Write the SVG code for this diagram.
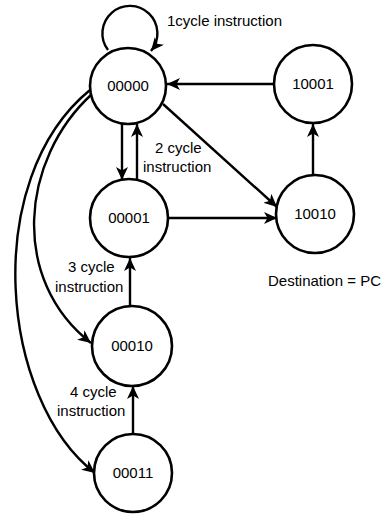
<svg xmlns="http://www.w3.org/2000/svg" width="388" height="514" viewBox="0 0 388 514">
<style>
.node circle{fill:#fff;stroke:#000;stroke-width:2.6}
.node text,.lbl{font-family:"Liberation Sans",Arial,sans-serif;font-size:15px;fill:#000}
.node text{text-anchor:middle}
.edge{fill:none;stroke:#000;stroke-width:2.4;marker-end:url(#ah)}
</style>
<defs>
<marker id="ah" markerUnits="userSpaceOnUse" markerWidth="14" markerHeight="12" refX="13" refY="6" orient="auto" viewBox="0 0 14 12">
<path d="M0,0 L13,6 L0,12 L3.5,6 z" fill="#000"/>
</marker>
</defs>
<rect width="388" height="514" fill="#fff"/>
<g id="connectors">
<path class="edge" d="M108 50 A27.5 27.5 0 1 1 151 51"/>
<path class="edge" d="M274 84 L167 84"/>
<path class="edge" d="M122 124 L122 180"/>
<path class="edge" d="M137 180 L137 124"/>
<path class="edge" d="M163 104 L277 207"/>
<path class="edge" d="M168 218 L277 218"/>
<path class="edge" d="M313 175 L313 124"/>
<path class="edge" d="M130 306 L130 258"/>
<path class="edge" d="M133 434 L133 386"/>
<path class="edge" d="M92 94 C20 160 10 280 91 343"/>
<path class="edge" d="M90 90 C-20 180 0 400 95 473"/>
</g>
<g id="n00000" class="node"><circle cx="128" cy="86" r="38"/><text x="128" y="91">00000</text></g>
<g id="n10001" class="node"><circle cx="313" cy="84" r="39"/><text x="313" y="89">10001</text></g>
<g id="n10010" class="node"><circle cx="315" cy="214" r="39"/><text x="315" y="219">10010</text></g>
<g id="n00001" class="node"><circle cx="129" cy="218" r="39"/><text x="129" y="223">00001</text></g>
<g id="n00010" class="node"><circle cx="132" cy="346" r="40"/><text x="132" y="351">00010</text></g>
<g id="n00011" class="node"><circle cx="133" cy="473" r="39"/><text x="133" y="478">00011</text></g>
<g id="labels">
<text class="lbl" x="167" y="26">1cycle instruction</text>
<text class="lbl" x="155" y="153">2 cycle</text>
<text class="lbl" x="143" y="172">instruction</text>
<text class="lbl" x="68" y="272">3 cycle</text>
<text class="lbl" x="55" y="292">instruction</text>
<text class="lbl" x="70" y="397">4 cycle</text>
<text class="lbl" x="57" y="416">instruction</text>
<text class="lbl" x="268" y="286">Destination = PC</text>
</g>
</svg>
